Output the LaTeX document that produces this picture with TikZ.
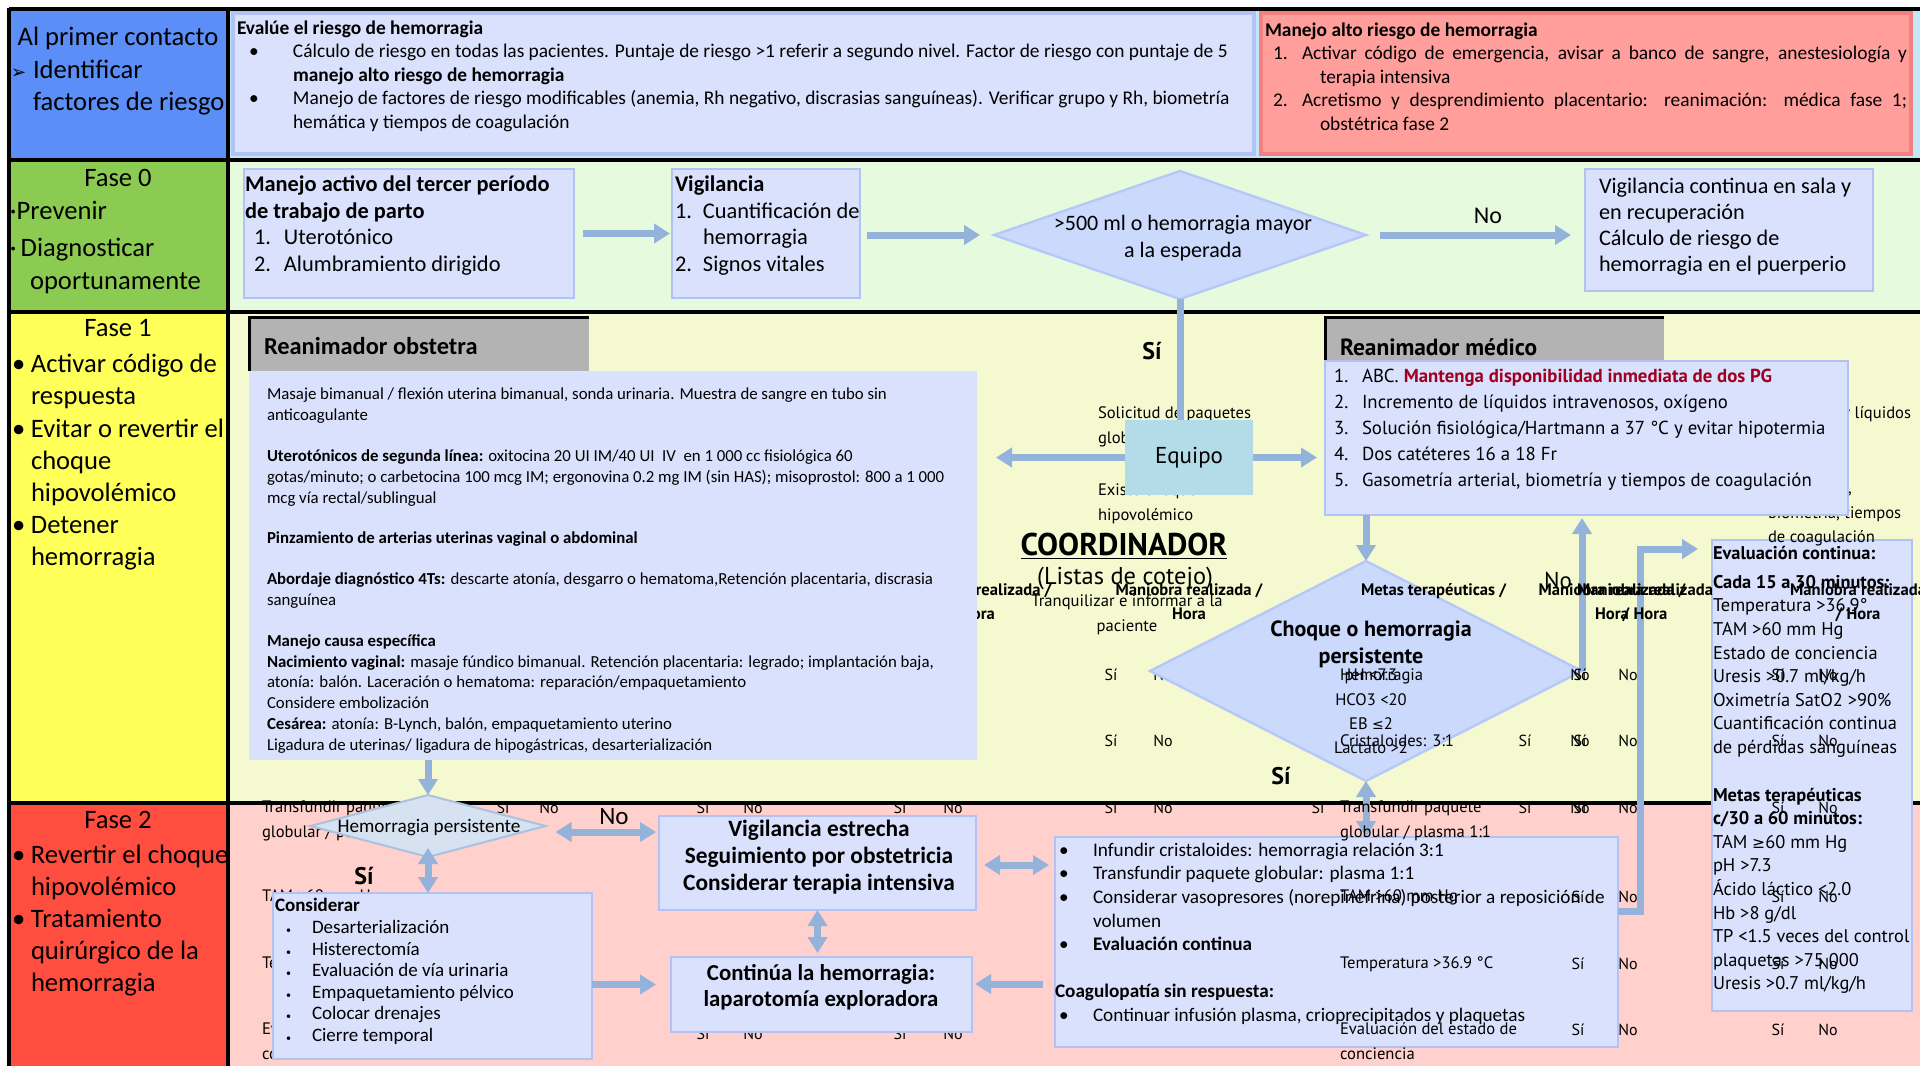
\documentclass[tikz,border=0pt]{standalone}
\usepackage{fontspec}
\setmainfont{Carlito}
\newfontfamily\ptsans{PT Sans}
\newfontfamily\symbfont{DejaVu Sans}
\usetikzlibrary{arrows.meta,shapes.geometric,fit}

\definecolor{cellblue}{RGB}{91,142,246}
\definecolor{rowblue}{RGB}{196,231,248}
\definecolor{cellgreen}{RGB}{140,203,82}
\definecolor{rowgreen}{RGB}{230,250,221}
\definecolor{cellyellow}{RGB}{255,255,90}
\definecolor{rowyellow}{RGB}{245,249,208}
\definecolor{cellred}{RGB}{255,77,64}
\definecolor{rowpink}{RGB}{255,208,204}
\definecolor{boxfill}{RGB}{217,225,252}
\definecolor{boxline}{RGB}{178,194,245}
\definecolor{riskfill}{RGB}{255,158,155}
\definecolor{riskline}{RGB}{242,128,126}
\definecolor{headgrey}{RGB}{179,179,179}
\definecolor{teamfill}{RGB}{180,220,232}
\definecolor{diafill}{RGB}{203,217,252}
\definecolor{dialine}{RGB}{182,200,248}
\definecolor{diagrey}{RGB}{214,226,240}
\definecolor{diagreyline}{RGB}{168,194,224}
\definecolor{flow}{RGB}{147,179,219}
\definecolor{alert}{RGB}{160,0,32}

\newcommand{\fs}[2]{\fontsize{#1}{#2}\selectfont}
\newcommand{\lbl}[2]{\makebox[#1][l]{#2}}
\newcommand{\fl}{\rule{0pt}{1em}}
\newcommand{\tip}{Triangle[length=8pt,width=9.5pt]}

\tikzset{
  every node/.style={inner sep=0pt, outer sep=0pt},
  box/.style={fill=boxfill, draw=boxline, line width=1.2pt},
  txt/.style={anchor=north west, align=left},
  side/.style={anchor=base west, font=\fs{13.3}{16}},
  yes/.style={anchor=base, font=\ptsans\bfseries\fs{12}{14}},
  junk/.style={anchor=north west, align=left, font=\ptsans\fs{8.3}{12.2}},
  junkb/.style={anchor=north, align=center, font=\ptsans\bfseries\fs{8.3}{12}},
  sino/.style={anchor=base, font=\ptsans\fs{8}{10}},
  link/.style={draw=flow, line width=3.5pt},
  arr/.style={link, -{\tip}},
  dblarr/.style={link, {\tip}-{\tip}},
  grid/.style={line width=2pt}
}

\begin{document}
\begin{tikzpicture}[x=0.5pt,y=-0.5pt]
\useasboundingbox (0,0) rectangle (1920,1066);

% rows of the table
\fill[cellblue] (9,9) rectangle (228,160);
\fill[rowblue] (228,9) rectangle (1920,160);
\fill[cellgreen] (9,160) rectangle (228,312);
\fill[rowgreen] (228,160) rectangle (1920,312);
\fill[cellyellow] (9,312) rectangle (228,803);
\fill[rowyellow] (228,312) rectangle (1920,803);
\fill[cellred] (9,803) rectangle (228,1066);
\fill[rowpink] (228,803) rectangle (1920,1066);

% checklist left behind the phase 2 boxes
\node[junk] (k1) at (262,796) {\fl Transfundir paquete\\globular / plasma 1:1};
\node[junk] (k2) at (262,885) {\fl TAM >60 mm Hg};
\node[junk] (k3) at (262,952) {\fl Temperatura >36.9 °C};
\node[junk] (k4) at (262,1018) {\fl Evaluación del estado de\\conciencia};
\node[sino] (s1) at (503,813) {Sí};
\node[sino] (n1) at (549,813) {No};
\node[sino] (s2) at (703,813) {Sí};
\node[sino] (n2) at (753,813) {No};
\node[sino] (s3) at (900,813) {Sí};
\node[sino] (n3) at (953,813) {No};
\node[sino] (s4) at (1111,813) {Sí};
\node[sino] (n4) at (1163,813) {No};
\node[sino] (s5) at (1318,813) {Sí};
\node[sino] (s6) at (703,1039) {Sí};
\node[sino] (n6) at (753,1039) {No};
\node[sino] (s7) at (900,1039) {Sí};
\node[sino] (n7) at (953,1039) {No};

% black rules
\draw[grid] (9,9) -- (1920,9);
\draw[grid] (9,160) -- (1920,160);
\draw[grid] (9,312) -- (1920,312);
\draw[grid] (9,803) -- (1920,803);
\draw[grid] (9,8) -- (9,1066);
\draw[grid] (228,8) -- (228,1066);

% side labels
\node[side, anchor=base] (c0) at (118,45) {Al primer contacto};
\node[side] (c0a) at (11,78) {\lbl{11pt}{\symbfont\fs{9}{10}➢}Identificar};
\node[side] (c0b) at (33,110) {factores de riesgo};
\node[side, anchor=base] (f0) at (118,186) {Fase 0};
\node[side] (f0a) at (10,219) {·Prevenir};
\node[side] (f0b) at (10,256) {·\hspace{2pt}Diagnosticar};
\node[side] (f0c) at (30,289) {oportunamente};
\node[side, anchor=base] (f1) at (118,336) {Fase 1};
\node[side, anchor=north west, align=left, font=\fs{13.3}{16.1}] (f1l) at (12,346) {\fl\lbl{9.5pt}{•}Activar código de\\
  \hspace*{9.5pt}respuesta\\
  \lbl{9.5pt}{•}Evitar o revertir el\\
  \hspace*{9.5pt}choque\\
  \hspace*{9.5pt}hipovolémico\\
  \lbl{9.5pt}{•}Detener\\
  \hspace*{9.5pt}hemorragia};
\node[side, anchor=base] (f2) at (118,828) {Fase 2};
\node[side, anchor=north west, align=left, font=\fs{13.3}{16}] (f2l) at (12,837) {\fl\lbl{9.5pt}{•}Revertir el choque\\
  \hspace*{9.5pt}hipovolémico\\
  \lbl{9.5pt}{•}Tratamiento\\
  \hspace*{9.5pt}quirúrgico de la\\
  \hspace*{9.5pt}hemorragia};

% first contact
\node[box, line width=1.6pt, fit={(233,13) (1254,154)}] (risk) {};
\node[txt, font=\fs{9.7}{11.7}] (riskt) at (237,15) {\fl\textbf{Evalúe el riesgo de hemorragia}\\
  \lbl{28pt}{\hspace*{6pt}•}Cálculo de riesgo en todas las pacientes. Puntaje de riesgo >1 referir a segundo nivel. Factor de riesgo con puntaje de 5\\
  \hspace*{28pt}\textbf{manejo alto riesgo de hemorragia}\\
  \lbl{28pt}{\hspace*{6pt}•}Manejo de factores de riesgo modificables (anemia, Rh negativo, discrasias sanguíneas). Verificar grupo y Rh, biometría\\
  \hspace*{28pt}hemática y tiempos de coagulación};
\node[fill=riskfill, draw=riskline, line width=1.6pt, fit={(1261,13) (1911,154)}] (high) {};
\node[anchor=north west, text width=321pt, align=justify, font=\fs{9.7}{11.7}] (hight) at (1265,17) {\fl\textbf{Manejo alto riesgo de hemorragia}\par
  \hangindent=27.5pt\hangafter=1\noindent\hspace*{4pt}\lbl{14.5pt}{1.}Activar código de emergencia, avisar a banco de sangre, anestesiología y\linebreak terapia intensiva\par
  \hangindent=27.5pt\hangafter=1\noindent\hspace*{4pt}\lbl{14.5pt}{2.}Acretismo y desprendimiento placentario: reanimación: médica fase 1;\linebreak obstétrica fase 2\par};

% phase 0
\node[box, fit={(244,169) (574,298)}] (act) {};
\node[txt, font=\fs{11.2}{13.3}] (actt) at (245,169) {\fl\textbf{Manejo activo del tercer período}\\
  \textbf{de trabajo de parto}\\
  \hspace*{4.5pt}\lbl{15pt}{1.}Uterotónico\\
  \hspace*{4.5pt}\lbl{15pt}{2.}Alumbramiento dirigido};
\node[box, fit={(672,169) (860,298)}] (vig) {};
\node[txt, font=\fs{11.2}{13.3}] (vigt) at (675,169) {\fl\textbf{Vigilancia}\\
  \lbl{14pt}{1.}Cuantificación de\\
  \hspace*{14pt}hemorragia\\
  \lbl{14pt}{2.}Signos vitales};
\node[diamond, fill=diafill, draw=dialine, line width=1.2pt, minimum width=186pt, minimum height=64pt] (loss) at (1180,235) {};
\node[align=center, font=\fs{11}{13.5}] (losst) at (1183,238) {>500 ml o hemorragia mayor\\a la esperada};
\node[box, fit={(1585,169) (1873,291)}] (ward) {};
\node[txt, font=\fs{11.1}{13}] (wardt) at (1599,171) {\fl Vigilancia continua en sala y\\
  en recuperación\\
  Cálculo de riesgo de\\
  hemorragia en el puerperio};
\draw[arr, shorten <=4.5pt, shorten >=1pt] (act) -- (vig);
\draw[arr, shorten <=3.5pt, shorten >=7pt] (vig.east |- loss.west) -- (loss.west);
\draw[arr, shorten <=7pt, shorten >=7pt] (loss.east) -- (loss.east -| ward.west);
\node[anchor=base, font=\fs{12}{13}] (no0) at (1488,223) {No};

% phase 1: evaluation box and checklist beneath
\node[box, fit={(1712,540) (1912,1011)}] (eval) {};
\node[junk] (k5) at (1098,402) {\fl Solicitud de paquetes\\globulares};
\node[junk] (k6) at (1098,479) {\fl Existe choque\\hipovolémico};
\node[junkb] (k7) at (978,579) {\fl Maniobra realizada /\\Hora};
\node[sino] (s8) at (1111,680) {Sí};
\node[sino] (n8) at (1163,680) {No};
\node[sino] (s9) at (1525,680) {Sí};
\node[junk] (k8) at (1768,402) {\fl Administrar líquidos};
\node[junk] (k9) at (1768,477) {\fl Gasometría,\\biometría, tiempos\\de coagulación};

% obstetric team
\node[fill=headgrey, fit={(249,317) (589,371)}] (obh) {};
\draw[line width=1.5pt] (obh.south west) -- (obh.north west) -- (obh.north east);
\node[anchor=base west, font=\bfseries\fs{12.2}{13}] (obht) at (264,354) {Reanimador obstetra};
\node[fill=boxfill, fit={(249,371) (977,760)}] (ob) {};
\node[txt, font=\fs{8.4}{10.4}] (obt) at (267,383) {\fl Masaje bimanual / flexión uterina bimanual, sonda urinaria. Muestra de sangre en tubo sin\\
  anticoagulante\\[10pt]
  \textbf{Uterotónicos de segunda línea:} oxitocina 20 UI IM/40 UI\ \ IV\ \ en 1 000 cc fisiológica 60\\
  gotas/minuto; o carbetocina 100 mcg IM; ergonovina 0.2 mg IM (sin HAS); misoprostol: 800 a 1 000\\
  mcg vía rectal/sublingual\\[10pt]
  \textbf{Pinzamiento de arterias uterinas vaginal o abdominal}\\[10pt]
  \textbf{Abordaje diagnóstico 4Ts:} descarte atonía, desgarro o hematoma,Retención placentaria, discrasia\\
  sanguínea\\[10pt]
  \textbf{Manejo causa específica}\\
  \textbf{Nacimiento vaginal:} masaje fúndico bimanual. Retención placentaria: legrado; implantación baja,\\
  atonía: balón. Laceración o hematoma: reparación/empaquetamiento\\
  Considere embolización\\
  \textbf{Cesárea:} atonía: B-Lynch, balón, empaquetamiento uterino\\
  Ligadura de uterinas/ ligadura de hipogástricas, desarterialización};

% coordinator and team
\node[fill=teamfill, fit={(1125,420) (1253,495)}] (team) {};
\node[font=\ptsans\fs{11.5}{13}] (teamt) at (team) {Equipo};
\draw[link] (loss.south) -- (loss.south |- team.north);
\node[yes] (si0) at (1152,359) {Sí};
\node[anchor=base, font=\ptsans\bfseries\fs{15.7}{17}] (coord) at (1124,555) {\underline{COORDINADOR}};
\node[anchor=base, font=\ptsans\fs{12.2}{14}] (lists) at (1125,584) {(Listas de cotejo)};

% medical team
\node[fill=headgrey, fit={(1325,317) (1664,365)}] (medh) {};
\draw[line width=1.5pt] (medh.south west) -- (medh.north west) -- (medh.north east);
\node[anchor=base west, font=\ptsans\bfseries\fs{11.7}{13}] (medht) at (1340,355) {Reanimador médico};
\node[box, fit={(1325,361) (1848,515)}] (med) {};
\node[txt, font=\ptsans\fs{9.4}{12.9}] (medt) at (1334,364) {\fl\lbl{14pt}{1.}ABC. \textcolor{alert}{\textbf{Mantenga disponibilidad inmediata de dos PG}}\\
  \lbl{14pt}{2.}Incremento de líquidos intravenosos, oxígeno\\
  \lbl{14pt}{3.}Solución fisiológica/Hartmann a 37 °C y evitar hipotermia\\
  \lbl{14pt}{4.}Dos catéteres 16 a 18 Fr\\
  \lbl{14pt}{5.}Gasometría arterial, biometría y tiempos de coagulación};
\draw[arr, shorten >=9.5pt] (team.west) -- (team.west -| ob.east);
\draw[arr, shorten >=4pt] (team.east) -- (team.east -| med.west);

\node[diamond, fill=diafill, draw=dialine, line width=1.2pt, minimum width=216pt, minimum height=110pt] (shock) at (1366,671) {};
\node[anchor=north, align=center, font=\ptsans\bfseries\fs{11}{13.5}] (shockt) at (1371,614) {\fl Choque o hemorragia\\persistente};
\draw[arr] (shock.north |- med.south) -- (shock.north);
\draw[arr, shorten >=1.5pt] (shock.east) -- (shock.east |- med.south);
\node[anchor=base, font=\ptsans\fs{11.5}{13}] (no1) at (1558,588) {No};
\node[yes] (si1) at (1281,784) {Sí};

\node[txt, font=\ptsans\fs{9.2}{11.8}] (evalt) at (1713,541) {\fl\textbf{Evaluación continua:}\\[2.6pt]
  \textbf{Cada 15 a 30 minutos:}\\
  Temperatura >36.9°\\
  TAM >60 mm Hg\\
  Estado de conciencia\\
  Uresis >0.7 ml/kg/h\\
  Oximetría SatO2 >90\%\\
  Cuantificación continua\\
  de pérdidas sanguíneas\\[12pt]
  \textbf{Metas terapéuticas}\\
  \textbf{c/30 a 60 minutos:}\\
  TAM {\symbfont\fs{7.8}{10}≥}60 mm Hg\\
  pH >7.3\\
  Ácido láctico <2.0\\
  Hb >8 g/dl\\
  TP <1.5 veces del control\\
  plaquetas >75 000\\
  Uresis >0.7 ml/kg/h};

% phase 2
\node[diamond, fill=diagrey, draw=diagreyline, line width=1pt, minimum width=117.5pt, minimum height=31pt] (again) at (428,826) {};
\node[font=\fs{9.6}{11}] (againt) at (429,828) {Hemorragia persistente};
\draw[arr] (again.north |- ob.south) -- (again.north);

\node[box, fit={(273,893) (592,1059)}] (cons) {};
\node[txt, font=\fs{9.5}{10.75}] (const) at (275,892) {\fl\textbf{Considerar}\\[0.7pt]
  \hspace*{5.5pt}\lbl{13pt}{\tiny•}Desarterialización\\
  \hspace*{5.5pt}\lbl{13pt}{\tiny•}Histerectomía\\
  \hspace*{5.5pt}\lbl{13pt}{\tiny•}Evaluación de vía urinaria\\
  \hspace*{5.5pt}\lbl{13pt}{\tiny•}Empaquetamiento pélvico\\
  \hspace*{5.5pt}\lbl{13pt}{\tiny•}Colocar drenajes\\
  \hspace*{5.5pt}\lbl{13pt}{\tiny•}Cierre temporal};

\node[box, fit={(659,816) (976,910)}] (close) {};
\node[anchor=north, align=center, font=\bfseries\fs{11.7}{13.5}] (closet) at (819,813) {\fl Vigilancia estrecha\\Seguimiento por obstetricia\\Considerar terapia intensiva};
\node[box, fit={(671,957) (972,1032)}] (lap) {};
\node[anchor=north, align=center, font=\bfseries\fs{11.4}{13}] (lapt) at (821,958) {\fl Continúa la hemorragia:\\laparotomía exploradora};

\node[box, fit={(1055,837) (1618,1047)}] (fluid) {};
\node[txt, font=\fs{9.6}{11.8}] (fluidt) at (1059,837) {\fl\lbl{17pt}{•}Infundir cristaloides: hemorragia relación 3:1\\
  \lbl{17pt}{•}Transfundir paquete globular: plasma 1:1\\
  \lbl{17pt}{•}Considerar vasopresores (norepinefrina) posterior a reposición de\\
  \hspace*{17pt}volumen\\
  \lbl{17pt}{•}\textbf{Evaluación continua}\\[11.8pt]
  \hspace*{-2pt}\textbf{Coagulopatía sin respuesta:}\\
  \lbl{17pt}{•}Continuar infusión plasma, crioprecipitados y plaquetas};

\draw[dblarr, shorten <=5pt, shorten >=1.5pt] ([yshift=-3pt]again.east) -- ([yshift=-3pt]again.east -| close.west);
\node[anchor=base, font=\fs{12.5}{14}] (no2) at (614,824) {No};
\draw[dblarr, shorten <=-4.5pt] (again.south) -- (again.south |- cons.north);
\node[yes] (si2) at (364,884) {Sí};
\draw[arr, shorten >=7.5pt] ([yshift=5pt]lap.west -| cons.east) -- ([yshift=5pt]lap.west);
\draw[dblarr, shorten >=2pt] (close.south) -- (close.south |- lap.north);
\draw[dblarr, shorten <=4pt, shorten >=3pt] ([yshift=-1pt]close.east) -- ([yshift=-1pt]close.east -| fluid.west);
\draw[arr, shorten <=6pt, shorten >=1.5pt] ([yshift=-21pt]fluid.west) -- ([yshift=-21pt]fluid.west -| lap.east);
\draw[dblarr] (shock.south) -- (shock.south |- fluid.north);
\coordinate (bend) at (1640,911);
\draw[arr, shorten >=7pt] (fluid.east |- bend) -- (bend) |- ([yshift=-4.5pt]eval.north west);

% checklist printed over the boxes
\node[junk, anchor=north, align=center] (k10) at (1127,590) {\fl Tranquilizar e informar a la\\paciente};
\node[junkb] (k11) at (1189,579) {\fl Maniobra realizada /\\Hora};
\node[sino] (s10) at (1111,746) {Sí};
\node[sino] (n10) at (1163,746) {No};
\node[junkb, anchor=north west] (k12) at (1361,579) {\fl Metas terapéuticas /};
\node[junk] (k13) at (1340,664) {\fl Hemorragia};
\node[junk, anchor=north, align=center] (k14) at (1371,664) {\fl pH <7.3\\HCO3 <20\\EB {\symbfont\fs{7}{10}≤}2\\Lactato >2};
\node[junk] (k15) at (1340,730) {\fl Cristaloides: 3:1};
\node[junk] (k16) at (1340,796) {\fl Transfundir paquete\\globular / plasma 1:1};
\node[junk] (k17) at (1340,885) {\fl TAM >60 mm Hg};
\node[junk] (k18) at (1340,952) {\fl Temperatura >36.9 °C};
\node[junk] (k19) at (1340,1018) {\fl Evaluación del estado de\\conciencia};
\node[junkb] (k20) at (1612,579) {\fl Maniobra realizada /\\Hora};
\node[junkb] (k21) at (1645,579) {\fl Maniobra realizada\\/ Hora};
\node[junkb] (k22) at (1858,579) {\fl Maniobra realizada\\/ Hora};
\node[sino] (s11) at (1525,746) {Sí};
\node[sino] (s12) at (1525,813) {Sí};
\node[sino] (s13) at (1580,680) {Sí};
\node[sino] (n13) at (1580,680) {No};
\node[sino] (s14) at (1580,746) {Sí};
\node[sino] (n14) at (1580,746) {No};
\node[sino] (s15) at (1580,813) {Sí};
\node[sino] (n15) at (1580,813) {No};
\node[sino] (s16) at (1578,902) {Sí};
\node[sino] (s17) at (1578,969) {Sí};
\node[sino] (s18) at (1578,1035) {Sí};
\node[sino] (n19) at (1628,680) {No};
\node[sino] (n20) at (1628,746) {No};
\node[sino] (n21) at (1628,813) {No};
\node[sino] (n22) at (1628,902) {No};
\node[sino] (n23) at (1628,969) {No};
\node[sino] (n24) at (1628,1035) {No};
\node[sino] (s25) at (1778,680) {Sí};
\node[sino] (n25) at (1828,680) {No};
\node[sino] (s26) at (1778,746) {Sí};
\node[sino] (n26) at (1828,746) {No};
\node[sino] (s27) at (1778,813) {Sí};
\node[sino] (n27) at (1828,813) {No};
\node[sino] (s28) at (1778,902) {Sí};
\node[sino] (n28) at (1828,902) {No};
\node[sino] (s29) at (1778,969) {Sí};
\node[sino] (n29) at (1828,969) {No};
\node[sino] (s30) at (1778,1035) {Sí};
\node[sino] (n30) at (1828,1035) {No};
\end{tikzpicture}
\end{document}
